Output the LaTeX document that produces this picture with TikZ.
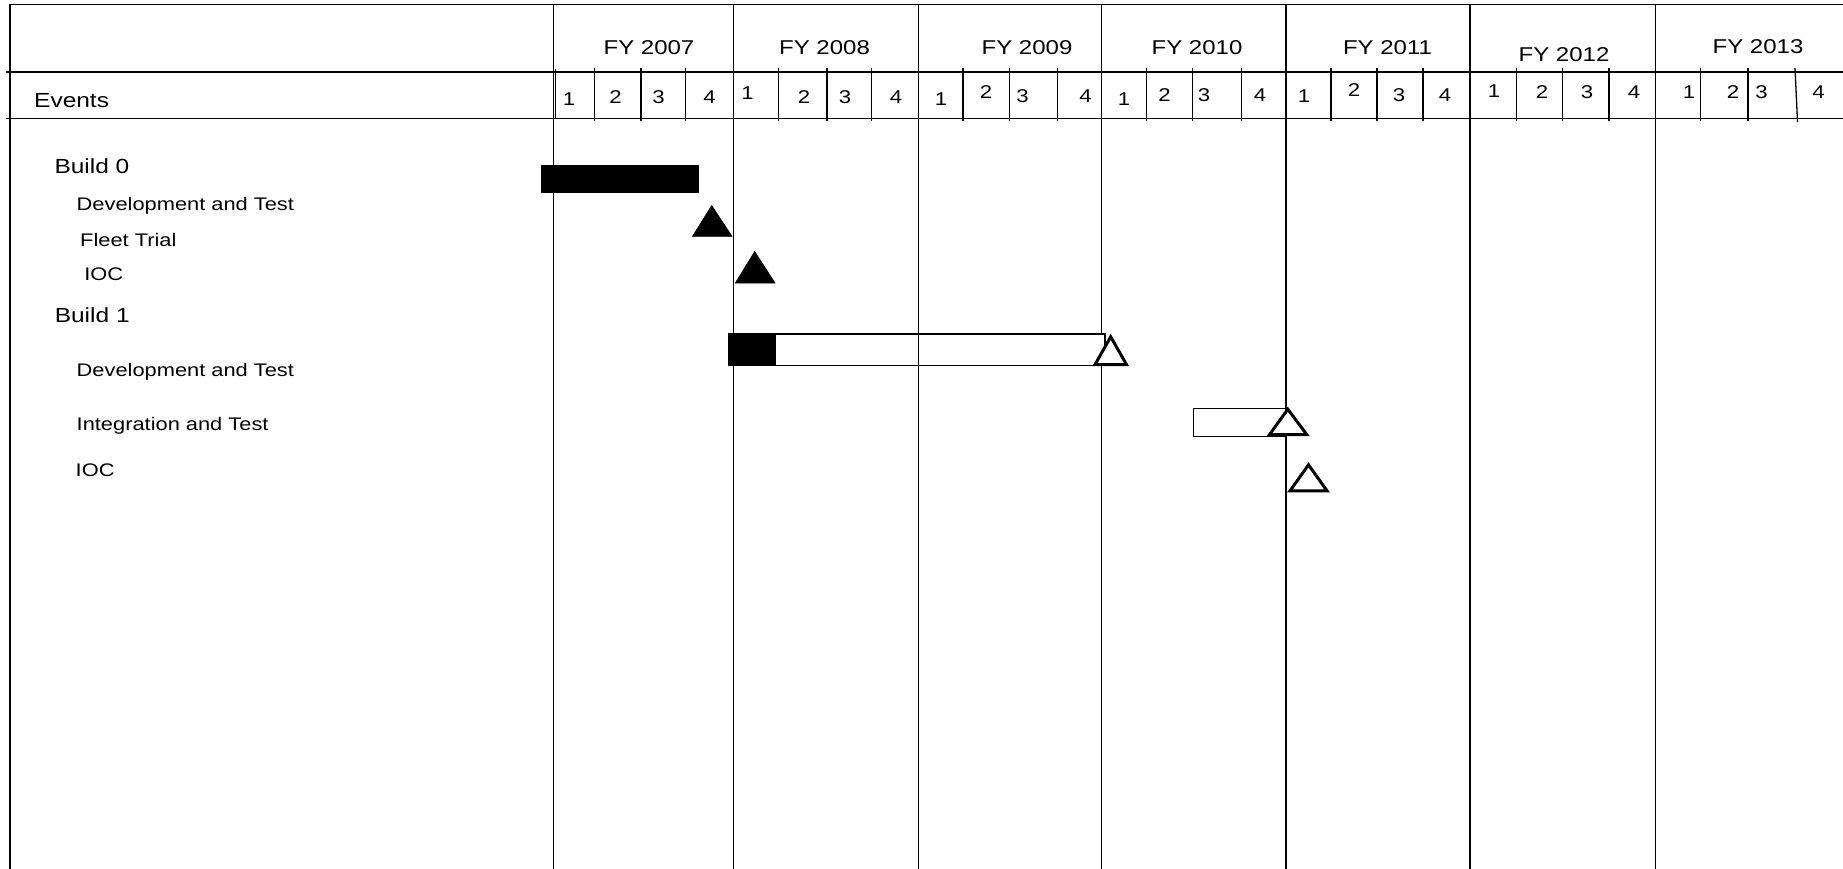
\documentclass[tikz,border=0pt]{standalone}
\usepackage{fontspec}
\setmainfont{Liberation Sans}[FakeStretch=1.2]
\begin{document}
\begin{tikzpicture}[x=1pt,y=-1pt,
  grid/.style={line width=1.5pt},
  qtick/.style={line width=1.3pt},
  yearlbl/.style={anchor=base,inner sep=0pt,font=\fontsize{20}{24}\selectfont},
  qlbl/.style={anchor=base,inner sep=0pt,font=\fontsize{18.5}{22}\selectfont},
  grouplbl/.style={anchor=base west,inner sep=0pt,font=\fontsize{20.4}{24}\selectfont},
  itemlbl/.style={anchor=base west,inner sep=0pt,font=\fontsize{18.2}{22}\selectfont},
  donebar/.style={fill=black,draw=black,line width=0.8pt},
  openbar/.style={fill=white,draw=black,line width=1.5pt},
  donemile/.style={fill=black,draw=black,line width=0.6pt,line join=miter},
  openmile/.style={fill=white,draw=black,line width=3pt,line join=miter}]

\useasboundingbox (0,0) rectangle (1843,869);
\fill[white] (0,0) rectangle (1843,869);

% outer frame and header rules
\draw[grid] (10,869) -- (10,4.3) -- (1843,4.3);
\draw[grid] (6,72) -- (1843,72);
\draw[grid] (6,118.5) -- (1843,118.5);

% label column and fiscal-year dividers
\foreach \x in {553.5,733.5,918.5,1101.7,1286,1470,1655.7}
  \draw[grid] (\x,4.3) -- (\x,869);
\draw[qtick] (555.5,69) -- (555.5,119);

% quarter separators
\foreach \x in {594.7,641,685.7,778.7,827,871.7,963,1009.3,1057.3,1146.5,1192.5,1241.7,1331,1377,1423,1516.5,1562.7,1609,1700.3,1748}
  \draw[qtick] (\x,68) -- (\x,121);
\draw[qtick] (1795,68) -- (1797.5,122);

% fiscal years
\foreach \x/\b/\yr in {649/55/2007,824.5/55/2008,1027/55/2009,1197/55/2010,1387.5/55/2011,1564/61.5/2012,1758/54/2013}
  \node[yearlbl] (fy\yr) at (\x,\b) {FY \yr};

% quarters
\foreach \x/\b/\q [count=\i] in {
  569/106/1,615.5/104/2,658.5/104/3,709.5/104/4,
  747.5/99.5/1,804/104/2,845/104/3,896/104/4,
  941/106/1,986/99/2,1022.5/103/3,1085.5/103/4,
  1124/106/1,1164.5/102/2,1204/102/3,1260/102/4,
  1304/103/1,1354/97/2,1399/102/3,1445/102/4,
  1494/98/1,1542/99/2,1587/99/3,1634/99/4,
  1689/99/1,1733/99/2,1761.5/99/3,1818.5/99/4}
  \node[qlbl] (q\i) at (\x,\b) {\q};

% event names
\node[grouplbl] (events) at (34,108) {Events};
\node[grouplbl] (b0) at (54.3,174) {Build 0};
\node[itemlbl] (b0dev) at (76.5,211) {Development and Test};
\node[itemlbl] (b0fleet) at (80,246.7) {Fleet Trial};
\node[itemlbl] (b0ioc) at (84.2,280) {IOC};
\node[grouplbl] (b1) at (54.6,322.7) {Build 1};
\node[itemlbl] (b1dev) at (76.5,376) {Development and Test};
\node[itemlbl] (b1int) at (76.5,430.7) {Integration and Test};
\node[itemlbl] (b1ioc) at (75.5,476) {IOC};

% activity bars
\draw[donebar] (541.5,165.8) rectangle (698.5,192);
\draw[openbar] (728.8,333.8) rectangle (1105,365.5);
\fill[black] (728.8,333.8) rectangle (776,365.5);
\draw[grid] (918.5,333) -- (918.5,367);
\draw[openbar] (1193.5,408.3) rectangle (1286,436.5);

% milestones
\filldraw[donemile] (711.7,205.5) -- (732,236.3) -- (692.5,236.3) -- cycle;
\filldraw[donemile] (754.7,251.5) -- (775,283) -- (735.3,283) -- cycle;
\filldraw[openmile] (1110.7,336.8) -- (1126.5,364.6) -- (1095,364.6) -- cycle;
\filldraw[openmile] (1287.8,409.2) -- (1306.8,434.6) -- (1269.5,434.6) -- cycle;
\filldraw[openmile] (1308.5,464.8) -- (1327,490.8) -- (1290,490.8) -- cycle;
\end{tikzpicture}
\end{document}
